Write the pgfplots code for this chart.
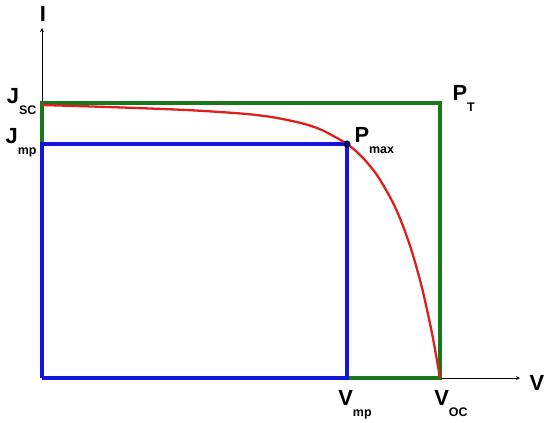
\documentclass[border=0pt]{standalone}
\usepackage{fontspec}
\setmainfont{Liberation Sans}
\usepackage{pgfplots}
\pgfplotsset{compat=1.18}

\definecolor{boxgreen}{RGB}{25,120,25}
\definecolor{curvered}{RGB}{225,30,30}
\definecolor{mpblue}{RGB}{20,20,220}
\definecolor{dotnavy}{RGB}{10,10,90}

\newcommand{\lab}[2]{{\fontsize{22}{24}\selectfont\bfseries #1\raisebox{-0.5em}{\fontsize{12.5}{13}\selectfont #2}}}

\begin{document}
\begin{tikzpicture}
\begin{axis}[
    x=1bp, y=1bp,
    xmin=0, xmax=478,
    ymin=0, ymax=350,
    axis lines=left,
    axis line style={black, line width=0.8pt, -stealth},
    ticks=none,
    clip=false,
]
% P_T box
\addplot[boxgreen, line width=3.5pt] coordinates {(0,0) (0,275) (398,275) (398,0) (0,0)};
% P_max box
\addplot[mpblue, line width=3.5pt] coordinates {(0,0) (0,234) (305,234) (305,0) (0,0)};
% I-V curve
\addplot[curvered, line width=2.3pt, smooth] coordinates {
    (0,273) (50,271.5) (100,269.8) (150,267.7) (200,264.4) (230,260.9)
    (260,254.7) (280,247.9) (305,234) (320,221.1) (335,202.9)
    (350,177.2) (360,154.6) (370,126) (380,90.1) (390,44.8) (398,0)
};
\addplot[only marks, mark=*, mark size=3.3pt, dotnavy] coordinates {(305,234)};

\node[anchor=east] at (axis cs:-2,276) {\lab{J}{SC}};
\node[anchor=east] at (axis cs:-2,235) {\lab{J}{mp}};
\node[anchor=north] at (axis cs:313,-9) {\lab{V}{mp}};
\node[anchor=north] at (axis cs:409,-9) {\lab{V}{OC}};
\node[anchor=west] at (axis cs:309,237) {\lab{P}{max}};
\node[anchor=west] at (axis cs:407,280) {\lab{P}{T}};
\node at (axis cs:495,-5) {\fontsize{22}{24}\selectfont\bfseries V};
\node at (axis cs:1,364) {\fontsize{22}{24}\selectfont\bfseries I};

\coordinate (bl) at (axis cs:-42,-43);
\coordinate (tr) at (axis cs:508,378);
\end{axis}
\path[use as bounding box] (bl) rectangle (tr);
\end{tikzpicture}
\end{document}
